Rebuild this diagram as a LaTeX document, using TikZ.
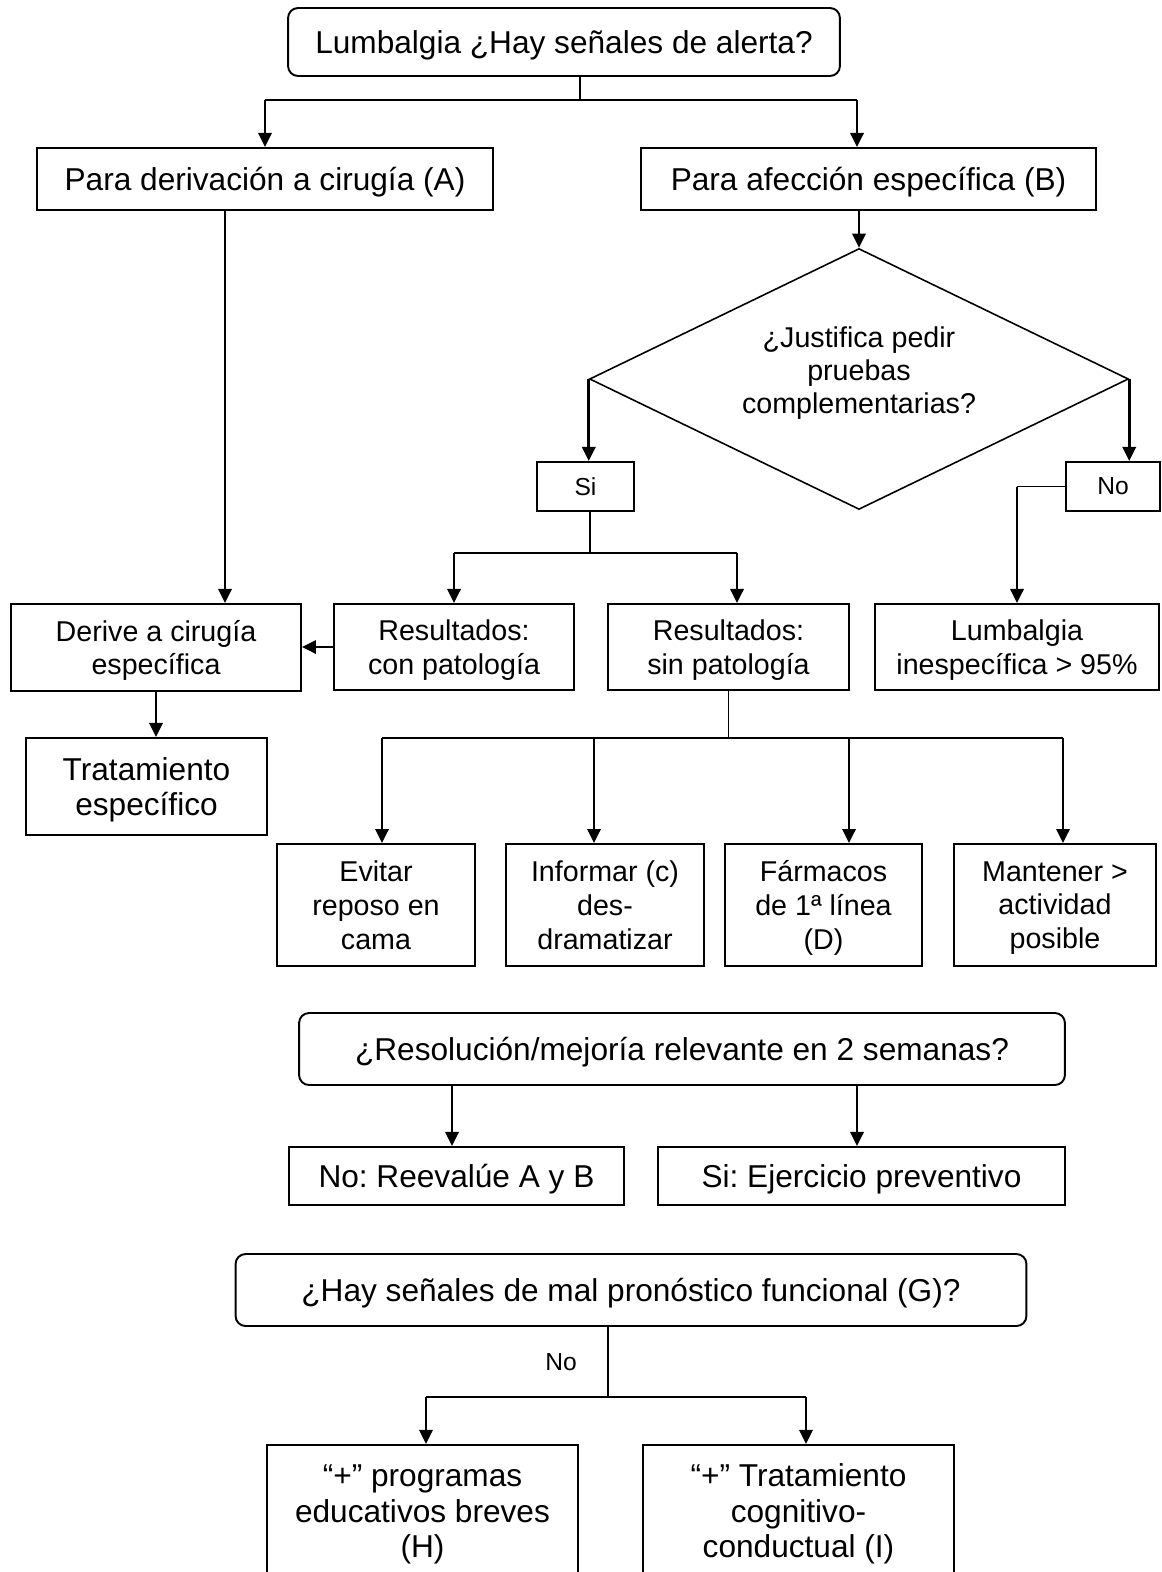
\documentclass[tikz,border=0pt]{standalone}
\usepackage{fontspec}
\setmainfont{Liberation Sans}
\usetikzlibrary{shapes.geometric,arrows.meta}

\begin{document}
\frenchspacing
\begin{tikzpicture}[x=0.02cm,y=0.02cm]
\tikzstyle{every node}+=[inner sep=0pt]
\tikzstyle{box}=[draw,line width=1.1pt,align=center,text depth=0pt,font=\fontsize{16.3}{19.2}\selectfont]
\tikzstyle{bigbox}=[box,font=\fontsize{18}{20.4}\selectfont]
\tikzstyle{roundbox}=[bigbox,rounded corners=0.2cm]
\tikzstyle{smallbox}=[box,font=\fontsize{14}{16}\selectfont]
\tikzstyle{arrow}=[line width=1.6pt,-{Triangle[length=8pt,width=7.5pt]}]
\tikzstyle{link}=[line width=0.9pt]
\tikzstyle{stem}=[line width=0.6pt]
\useasboundingbox (0,0) rectangle (1161,-1572);
\fill [white] (0,0) rectangle (1161,-1572);
\node [roundbox,minimum width=11.04cm,minimum height=1.36cm] (alerta) at (564,-42) {Lumbalgia ¿Hay señales de alerta?};
\node [bigbox,minimum width=9.12cm,minimum height=1.24cm] (paraA) at (265,-179) {Para derivación a cirugía (A)};
\node [bigbox,minimum width=9.1cm,minimum height=1.24cm] (paraB) at (868.5,-179) {Para afección específica (B)};
\node [draw,diamond,line width=0.9pt,minimum width=10.78cm,minimum height=5.22cm] (justifica) at (859,-379) {};
\node [align=center,font=\fontsize{16.3}{19}\selectfont] (justTxt) at (859,-373) {¿Justifica pedir\\pruebas\\complementarias?};
\node [smallbox,minimum width=1.94cm,minimum height=0.98cm] (si) at (585.5,-486.5) {Si};
\node [smallbox,minimum width=1.88cm,minimum height=0.98cm] (no) at (1113,-486.5) {No};
\node [box,minimum width=5.8cm,minimum height=1.74cm] (derive) at (156,-647.5) {Derive a cirugía\\específica};
\node [box,minimum width=4.8cm,minimum height=1.72cm] (conPat) at (454,-647) {Resultados:\\con patología};
\node [box,minimum width=4.82cm,minimum height=1.72cm] (sinPat) at (728.5,-647) {Resultados:\\sin patología};
\node [box,minimum width=5.68cm,minimum height=1.72cm] (inesp) at (1017,-647) {Lumbalgia\\inespecífica > 95\%};
\node [bigbox,minimum width=4.82cm,minimum height=1.94cm] (trat) at (146.5,-786.5) {Tratamiento\\específico};
\node [box,minimum width=3.96cm,minimum height=2.44cm] (reposo) at (376,-905) {Evitar\\reposo en\\cama};
\node [box,minimum width=3.96cm,minimum height=2.44cm] (informar) at (605,-905) {Informar (c)\\des-\\dramatizar};
\node [box,minimum width=3.94cm,minimum height=2.44cm] (farmacos) at (823.5,-905) {Fármacos\\de 1ª línea\\(D)};
\node [box,minimum width=4.04cm,minimum height=2.44cm] (actividad) at (1055,-905) {Mantener >\\actividad\\posible};
\node [roundbox,minimum width=15.32cm,minimum height=1.44cm] (mejora) at (682,-1049) {¿Resolución/mejoría relevante en 2 semanas?};
\node [bigbox,minimum width=6.7cm,minimum height=1.16cm] (reeval) at (456.5,-1176) {No: Reevalúe A y B};
\node [bigbox,minimum width=8.14cm,minimum height=1.16cm] (ejercicio) at (861.5,-1176) {Si: Ejercicio preventivo};
\node [roundbox,minimum width=15.82cm,minimum height=1.44cm] (pronostico) at (631,-1290) {¿Hay señales de mal pronóstico funcional (G)?};
\node [font=\fontsize{14}{16}\selectfont] (noG) at (561,-1362) {No};
\node [bigbox,anchor=north,minimum width=6.22cm,text height=2.26cm,text depth=1.4cm] (educ) at (422.5,-1444) {“+” programas\\educativos breves\\(H)};
\node [bigbox,anchor=north,minimum width=6.22cm,text height=2.26cm,text depth=1.4cm] (cogn) at (798.5,-1444) {“+” Tratamiento\\cognitivo-\\conductual (I)};
% first split
\coordinate (splitTop) at (580,-100);
\coordinate (toB) at (857,-100);
\draw [stem] (alerta.south -| splitTop) -- (splitTop);
\draw [link] (paraA.north |- splitTop) -- (toB);
\draw [arrow] (paraA.north |- splitTop) -- (paraA.north);
\draw [arrow] (toB) -- (toB |- paraB.north);
\coordinate (downA) at (225,-400);
\draw [arrow] (paraA.south -| downA) -- (downA |- derive.north);
\draw [arrow] (paraB.south -| justifica.north) -- (justifica.north);
\draw [arrow] (justifica.west) -- (justifica.west |- si.north);
\draw [arrow] (justifica.east) -- (justifica.east |- no.north);
\draw [link] (no.west) -- (no.west -| inesp.north);
\draw [arrow] (no.west -| inesp.north) -- (inesp.north);
% results
\coordinate (splitSi) at (590,-553);
\coordinate (toSin) at (737,-553);
\draw [stem] (si.south -| splitSi) -- (splitSi);
\draw [link] (conPat.north |- splitSi) -- (toSin);
\draw [arrow] (conPat.north |- splitSi) -- (conPat.north);
\draw [arrow] (toSin) -- (toSin |- sinPat.north);
\draw [arrow] (conPat.west) -- (conPat.west -| derive.east);
\draw [arrow] (derive.south) -- (derive.south |- trat.north);
% measures
\foreach \x/\n in {382/reposo,594/informar,849/farmacos,1063/actividad} {
  \coordinate (bus-\n) at (\x,-738);
  \draw [arrow] (bus-\n) -- (bus-\n |- \n.north);
}
\draw [link] (bus-reposo) -- (bus-actividad);
\draw [stem] (sinPat.south) -- (sinPat.south |- bus-reposo);
% two weeks
\coordinate (toReeval) at (452,-1100);
\coordinate (toEjerc) at (857,-1100);
\draw [arrow] (mejora.south -| toReeval) -- (toReeval |- reeval.north);
\draw [arrow] (mejora.south -| toEjerc) -- (toEjerc |- ejercicio.north);
% prognosis
\coordinate (splitG) at (608,-1397);
\coordinate (toEduc) at (426,-1397);
\coordinate (toCogn) at (806,-1397);
\draw [stem] (pronostico.south -| splitG) -- (splitG);
\draw [link] (toEduc) -- (toCogn);
\draw [arrow] (toEduc) -- (toEduc |- educ.north);
\draw [arrow] (toCogn) -- (toCogn |- cogn.north);
\end{tikzpicture}
\end{document}
